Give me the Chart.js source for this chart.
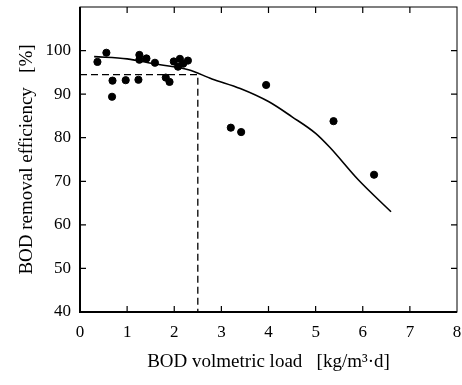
<!DOCTYPE html>
<html>
<head>
<meta charset="utf-8">
<script src="https://cdn.jsdelivr.net/npm/chart.js@4.4.1/dist/chart.umd.min.js"></script>
<style>
  body { margin: 0; background: #fff; }
  #wrap { width: 462px; height: 385px; }
</style>
</head>
<body>
<div id="wrap"><canvas id="myChart"></canvas></div>
<script>
const loadX = [0.37, 0.56, 0.69, 0.68, 0.97, 1.24, 1.26, 1.26, 1.41, 1.59, 1.82, 1.90, 1.99, 2.08, 2.12, 2.19, 2.29, 3.20, 3.42, 3.95, 5.38, 6.24];
const effY  = [97.4, 99.5, 93.1, 89.4, 93.2, 93.3, 99.0, 97.9, 98.2, 97.2, 93.8, 92.8, 97.5, 96.3, 98.1, 97.0, 97.7, 82.3, 81.3, 92.1, 83.8, 71.5];

// fitted curve
const curveX = [0.3, 1.0, 1.6, 2.3, 2.8, 3.4, 4.0, 4.5, 5.0, 5.3, 5.9, 6.6];
const curveY = [98.6, 98.1, 96.9, 95.6, 93.5, 91.3, 88.3, 84.8, 81.0, 77.8, 70.4, 63.0];

// dashed guide line
const guideX = [0, 2.5, 2.5];
const guideY = [94.5, 94.5, 40];

const xTicks = [0, 1, 2, 3, 4, 5, 6, 7, 8];
const yTicks = [40, 50, 60, 70, 80, 90, 100];

function pts(xs, ys) {
  let out = [];
  for (let i = 0; i < xs.length; i++) {
    out.push({x: xs[i], y: ys[i]});
  }
  return out;
}

// ticks pointing inward on all four sides + frame
const frame = {
  id: 'frame',
  afterDraw(chart) {
    const c = chart.ctx;
    const a = chart.chartArea;
    const xs = chart.scales.x, ys = chart.scales.y;
    c.save();
    c.strokeStyle = '#000';
    c.lineWidth = 1;
    c.strokeRect(a.left, a.top, a.right - a.left, a.bottom - a.top);
    c.lineWidth = 2;
    c.beginPath();
    c.moveTo(a.left, a.top); c.lineTo(a.left, a.bottom); c.lineTo(a.right, a.bottom);
    c.stroke();
    c.lineWidth = 1.2;
    c.beginPath();
    for (let v = 1; v < 8; v++) {
      const px = xs.getPixelForValue(v);
      c.moveTo(px, a.bottom); c.lineTo(px, a.bottom - 6);
      c.moveTo(px, a.top); c.lineTo(px, a.top + 6);
    }
    for (let v = 50; v <= 100; v += 10) {
      const py = ys.getPixelForValue(v);
      c.moveTo(a.left, py); c.lineTo(a.left + 6, py);
      c.moveTo(a.right, py); c.lineTo(a.right - 6, py);
    }
    c.stroke();
    c.restore();
  }
};

const ctx = document.getElementById('myChart');
const serif = "'Liberation Serif', 'DejaVu Serif', serif";

new Chart(ctx, {
  type: 'scatter',
  data: {
    datasets: [
      {
        label: 'data',
        data: pts(loadX, effY),
        pointRadius: 3.6,
        pointBackgroundColor: '#000',
        pointBorderColor: '#000',
        showLine: false
      },
      {
        label: 'curve',
        type: 'line',
        data: pts(curveX, curveY),
        borderColor: '#000',
        borderWidth: 1.6,
        pointRadius: 0,
        cubicInterpolationMode: 'monotone',
        fill: false
      },
      {
        label: 'guide',
        type: 'line',
        data: pts(guideX, guideY),
        borderColor: '#000',
        borderWidth: 1.3,
        borderDash: [7, 4],
        pointRadius: 0,
        tension: 0,
        fill: false
      }
    ]
  },
  options: {
    responsive: true,
    maintainAspectRatio: false,
    animation: false,
    layout: { padding: { top: 7, right: 0, left: 0, bottom: 0 } },
    plugins: {
      legend: { display: false },
      tooltip: { enabled: false }
    },
    scales: {
      x: {
        type: 'linear',
        min: 0,
        max: 8,
        afterBuildTicks: (s) => { s.ticks = xTicks.map(v => ({value: v})); },
        afterFit: (s) => { s.height = 73; s.paddingRight = 3; },
        grid: { display: false },
        border: { display: false },
        ticks: { color: '#000', padding: 2, font: { family: serif, size: 17 } },
        title: {
          display: true,
          text: 'BOD volmetric load   [kg/m³·d]',
          color: '#000',
          padding: { top: 4, bottom: 12 },
          font: { family: serif, size: 19 }
        }
      },
      y: {
        type: 'linear',
        min: 40,
        max: 110,
        afterBuildTicks: (s) => { s.ticks = yTicks.map(v => ({value: v})); },
        afterFit: (s) => { s.width = 80; s.paddingTop = 0; },
        grid: { display: false },
        border: { display: false },
        ticks: { color: '#000', padding: 1, font: { family: serif, size: 17 } },
        title: {
          display: true,
          text: 'BOD removal efficiency   [%]',
          color: '#000',
          padding: { bottom: 0, top: 16 },
          font: { family: serif, size: 19 }
        }
      }
    }
  },
  plugins: [frame]
});
</script>
</body>
</html>
